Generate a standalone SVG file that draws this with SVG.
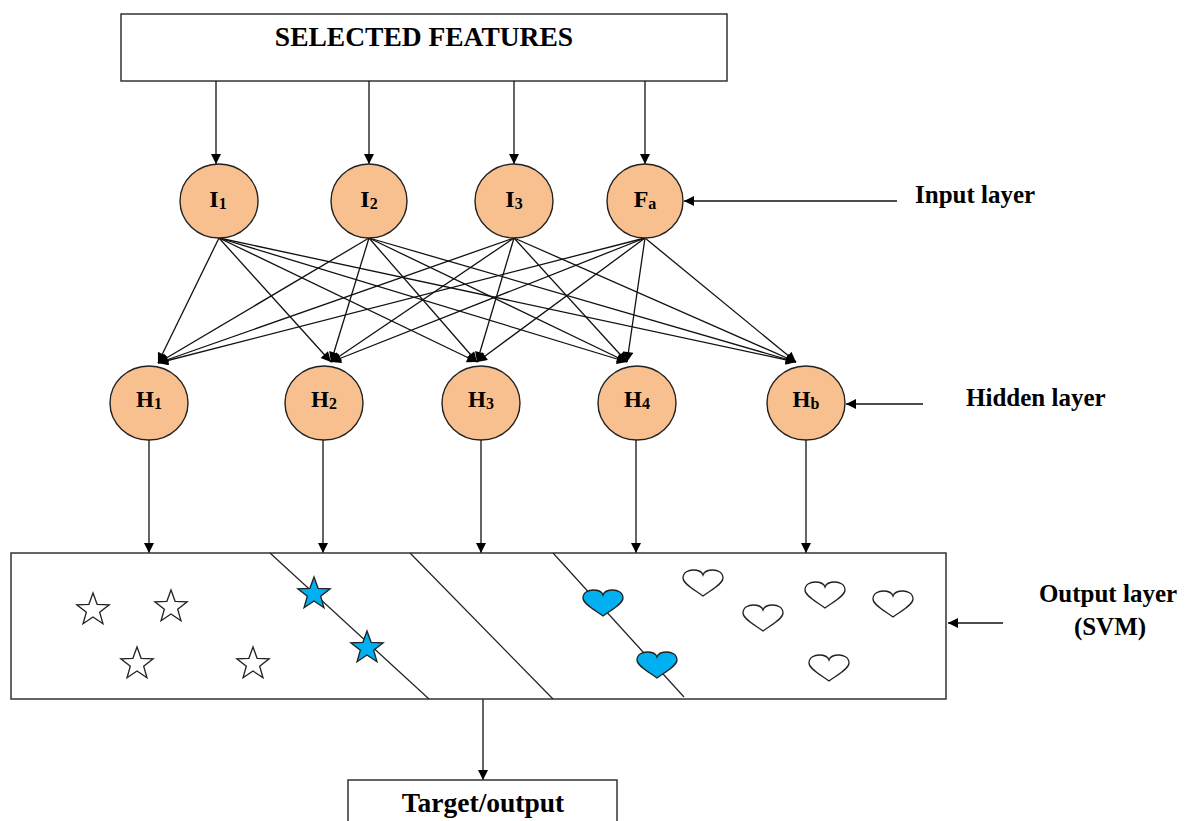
<svg xmlns="http://www.w3.org/2000/svg" width="1185" height="821" viewBox="0 0 1185 821">
<style>
.t{font-family:"Liberation Serif","Times New Roman",serif;font-weight:bold;fill:#000}
.node{fill:#F8BF8F;stroke:#222;stroke-width:1.4}
.box{fill:#fff;stroke:#333;stroke-width:1.5}
.arr{stroke:#111;stroke-width:1.3;fill:none;marker-end:url(#ah)}
.sep{stroke:#222;stroke-width:1.2}
.wstar{fill:#fff;stroke:#222;stroke-width:1.3}
.bstar{fill:#00B0F0;stroke:#222;stroke-width:1.3}
</style>
<defs>
<marker id="ah" viewBox="0 0 10 10" refX="10" refY="5" markerUnits="userSpaceOnUse" markerWidth="12" markerHeight="10" orient="auto">
<path d="M0,0 L10,5 L0,10 z" fill="#000"/>
</marker>
<polygon id="star" points="0,-17 4.11,-5.66 16.17,-5.25 6.66,2.16 9.99,13.75 0,7 -9.99,13.75 -6.66,2.16 -16.17,-5.25 -4.11,-5.66"/>
<path id="heart" d="M0,13 C-8,7 -20,1 -20,-5 C-20,-11 -14,-13 -10,-13 C-5,-13 -1,-11 0,-8 C1,-11 5,-13 10,-13 C14,-13 20,-11 20,-5 C20,1 8,7 0,13 Z"/>
</defs>
<rect width="1185" height="821" fill="#fff"/>

<g id="selected-features">
<rect class="box" x="121" y="14" width="606" height="67"/>
<text class="t" x="424" y="46" font-size="27.5" text-anchor="middle">SELECTED FEATURES</text>
</g>

<g id="connectors">
<line class="arr" x1="216" y1="81" x2="216" y2="164"/>
<line class="arr" x1="369" y1="81" x2="369" y2="164"/>
<line class="arr" x1="514" y1="81" x2="514" y2="164"/>
<line class="arr" x1="645" y1="81" x2="645" y2="164"/>

<line class="arr" x1="219" y1="238" x2="158" y2="363"/>
<line class="arr" x1="219" y1="238" x2="331" y2="362"/>
<line class="arr" x1="219" y1="238" x2="477" y2="362"/>
<line class="arr" x1="219" y1="238" x2="627" y2="362"/>
<line class="arr" x1="219" y1="238" x2="796" y2="362"/>

<line class="arr" x1="369" y1="238" x2="158" y2="363"/>
<line class="arr" x1="369" y1="238" x2="331" y2="362"/>
<line class="arr" x1="369" y1="238" x2="477" y2="362"/>
<line class="arr" x1="369" y1="238" x2="627" y2="362"/>
<line class="arr" x1="369" y1="238" x2="796" y2="362"/>

<line class="arr" x1="514" y1="238" x2="158" y2="363"/>
<line class="arr" x1="514" y1="238" x2="331" y2="362"/>
<line class="arr" x1="514" y1="238" x2="477" y2="362"/>
<line class="arr" x1="514" y1="238" x2="627" y2="362"/>
<line class="arr" x1="514" y1="238" x2="796" y2="362"/>

<line class="arr" x1="645" y1="238" x2="158" y2="363"/>
<line class="arr" x1="645" y1="238" x2="331" y2="362"/>
<line class="arr" x1="645" y1="238" x2="477" y2="362"/>
<line class="arr" x1="645" y1="238" x2="627" y2="362"/>
<line class="arr" x1="645" y1="238" x2="796" y2="362"/>

<line class="arr" x1="149" y1="440" x2="149" y2="553"/>
<line class="arr" x1="323" y1="440" x2="323" y2="553"/>
<line class="arr" x1="481" y1="440" x2="481" y2="553"/>
<line class="arr" x1="636" y1="440" x2="636" y2="553"/>
<line class="arr" x1="806" y1="440" x2="806" y2="553"/>

<line class="arr" x1="483" y1="699" x2="483" y2="780"/>

<line class="arr" x1="897" y1="201" x2="684" y2="201"/>
<line class="arr" x1="923" y1="404" x2="846" y2="404"/>
<line class="arr" x1="1003" y1="623" x2="948" y2="623"/>
</g>

<g id="I1">
<ellipse class="node" cx="219" cy="201" rx="39" ry="37"/>
<text class="t" x="218" y="207" font-size="24" text-anchor="middle">I<tspan font-size="16" dy="2">1</tspan></text>
</g>
<g id="I2">
<ellipse class="node" cx="369" cy="201" rx="38" ry="37"/>
<text class="t" x="369" y="207" font-size="24" text-anchor="middle">I<tspan font-size="16" dy="2">2</tspan></text>
</g>
<g id="I3">
<ellipse class="node" cx="514" cy="201" rx="39" ry="37"/>
<text class="t" x="514" y="207" font-size="24" text-anchor="middle">I<tspan font-size="16" dy="2">3</tspan></text>
</g>
<g id="Fa">
<ellipse class="node" cx="645" cy="201" rx="38" ry="37"/>
<text class="t" x="645" y="207" font-size="24" text-anchor="middle">F<tspan font-size="16" dy="2">a</tspan></text>
</g>

<g id="H1">
<ellipse class="node" cx="149" cy="403" rx="39" ry="37"/>
<text class="t" x="149" y="407" font-size="23" text-anchor="middle">H<tspan font-size="16" dy="2">1</tspan></text>
</g>
<g id="H2">
<ellipse class="node" cx="324" cy="403" rx="39" ry="37"/>
<text class="t" x="324" y="407" font-size="23" text-anchor="middle">H<tspan font-size="16" dy="2">2</tspan></text>
</g>
<g id="H3">
<ellipse class="node" cx="481" cy="403" rx="39" ry="37"/>
<text class="t" x="481" y="407" font-size="23" text-anchor="middle">H<tspan font-size="16" dy="2">3</tspan></text>
</g>
<g id="H4">
<ellipse class="node" cx="637" cy="403" rx="39" ry="37"/>
<text class="t" x="637" y="407" font-size="23" text-anchor="middle">H<tspan font-size="16" dy="2">4</tspan></text>
</g>
<g id="Hb">
<ellipse class="node" cx="806" cy="403" rx="39" ry="37"/>
<text class="t" x="806" y="407" font-size="23" text-anchor="middle">H<tspan font-size="16" dy="2">b</tspan></text>
</g>

<g id="output-layer">
<rect class="box" x="11" y="553" width="935" height="146"/>
<line class="sep" x1="270" y1="553" x2="429" y2="699"/>
<line class="sep" x1="410" y1="553" x2="553" y2="699"/>
<line class="sep" x1="553" y1="553" x2="684" y2="697"/>
<use href="#star" class="wstar" x="93" y="610"/>
<use href="#star" class="wstar" x="171" y="607"/>
<use href="#star" class="wstar" x="137" y="664"/>
<use href="#star" class="wstar" x="253" y="664"/>
<use href="#star" class="bstar" x="314" y="594"/>
<use href="#star" class="bstar" x="367" y="648"/>
<use href="#heart" class="bstar" x="603" y="603"/>
<use href="#heart" class="bstar" x="657" y="665"/>
<use href="#heart" class="wstar" x="703" y="583"/>
<use href="#heart" class="wstar" x="763" y="618"/>
<use href="#heart" class="wstar" x="825" y="595"/>
<use href="#heart" class="wstar" x="893" y="604"/>
<use href="#heart" class="wstar" x="829" y="668"/>
</g>

<g id="target-output">
<rect class="box" x="348" y="780" width="269" height="60"/>
<text class="t" x="483" y="812" font-size="27.5" text-anchor="middle">Target/output</text>
</g>

<g id="labels">
<text class="t" x="915" y="203" font-size="25">Input layer</text>
<text class="t" x="966" y="406" font-size="25">Hidden layer</text>
<text class="t" x="1108" y="602" font-size="25" text-anchor="middle">Output layer</text>
<text class="t" x="1110" y="635" font-size="25" text-anchor="middle">(SVM)</text>
</g>
</svg>
